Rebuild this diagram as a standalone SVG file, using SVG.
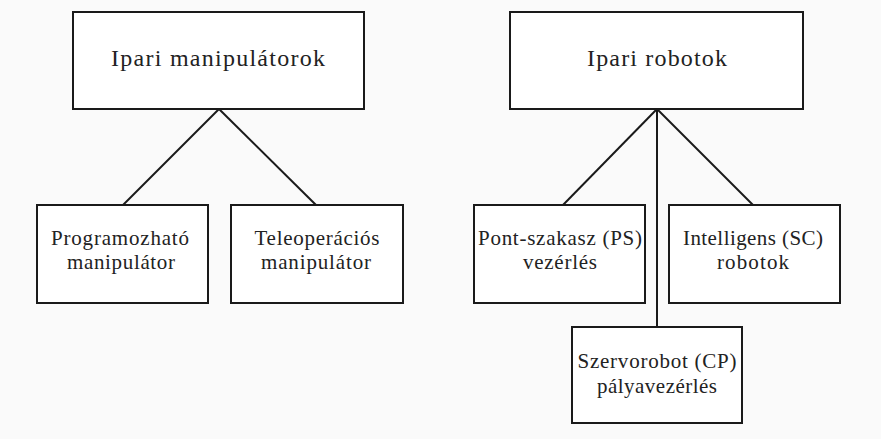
<svg xmlns="http://www.w3.org/2000/svg" width="881" height="439" viewBox="0 0 881 439" font-family="'Liberation Serif', 'Times New Roman', serif">
<style>
.box{fill:#ffffff;stroke:#1a1a1a;stroke-width:2}
.ln{stroke:#1a1a1a;stroke-width:2;fill:none}
text{fill:#222;text-anchor:middle}
.t{font-size:24px}
.s{font-size:21px}
</style>
<rect width="881" height="439" fill="#fafafa"/>
<g id="connectors">
<line class="ln" x1="219" y1="109" x2="123" y2="205"/>
<line class="ln" x1="219" y1="109" x2="316" y2="205"/>
<line class="ln" x1="657" y1="109" x2="563" y2="205"/>
<line class="ln" x1="657" y1="109" x2="753" y2="205"/>
<line class="ln" x1="657" y1="109" x2="657" y2="327"/>
</g>
<g id="ipari-manipulatorok">
<rect class="box" x="73" y="12" width="291" height="97"/>
<text class="t" x="218" y="66" textLength="214" lengthAdjust="spacing">Ipari manipulátorok</text>
</g>
<g id="ipari-robotok">
<rect class="box" x="510" y="12" width="293" height="97"/>
<text class="t" x="657" y="66" textLength="140" lengthAdjust="spacing">Ipari robotok</text>
</g>
<g id="programozhato">
<rect class="box" x="37" y="205" width="171" height="98"/>
<text class="s" x="120" y="245" textLength="138" lengthAdjust="spacing">Programozható</text>
<text class="s" x="121" y="269" textLength="108" lengthAdjust="spacing">manipulátor</text>
</g>
<g id="teleoperacios">
<rect class="box" x="231" y="205" width="172" height="98"/>
<text class="s" x="317" y="245" textLength="125" lengthAdjust="spacing">Teleoperációs</text>
<text class="s" x="316" y="269" textLength="110" lengthAdjust="spacing">manipulátor</text>
</g>
<g id="pont-szakasz">
<rect class="box" x="474" y="205" width="171" height="98"/>
<text class="s" x="560" y="245" textLength="164" lengthAdjust="spacing">Pont-szakasz (PS)</text>
<text class="s" x="560" y="269" textLength="74" lengthAdjust="spacing">vezérlés</text>
</g>
<g id="intelligens">
<rect class="box" x="669" y="205" width="171" height="98"/>
<text class="s" x="753" y="245" textLength="140" lengthAdjust="spacing">Intelligens (SC)</text>
<text class="s" x="753" y="269" textLength="72" lengthAdjust="spacing">robotok</text>
</g>
<g id="szervorobot">
<rect class="box" x="572" y="327" width="170" height="96"/>
<text class="s" x="657" y="368" textLength="159" lengthAdjust="spacing">Szervorobot (CP)</text>
<text class="s" x="657" y="393" textLength="120" lengthAdjust="spacing">pályavezérlés</text>
</g>
</svg>
